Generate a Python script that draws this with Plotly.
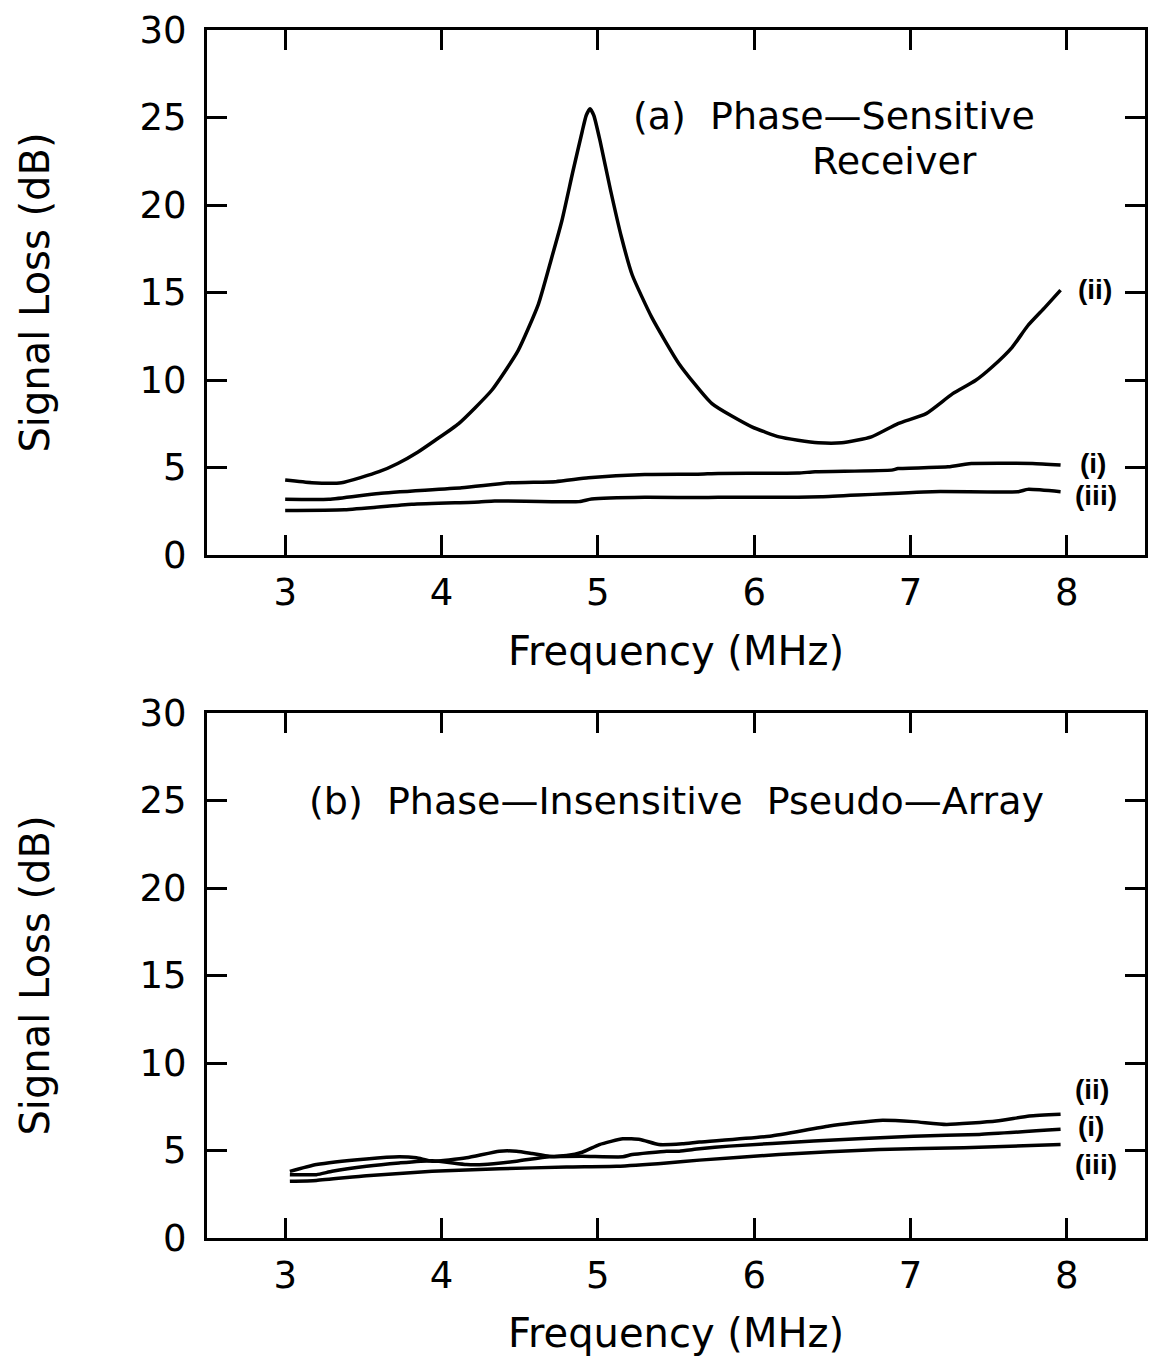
import plotly.graph_objects as go

# ---------------- data ----------------
# (a) Phase-sensitive receiver
a_ii_f = [3.00, 3.17, 3.36, 3.60, 3.72, 3.85, 3.96, 4.11, 4.32, 4.49, 4.62, 4.705, 4.77, 4.84,
          4.90, 4.925, 4.95, 4.975, 5.015, 5.08, 5.15, 5.22, 5.345, 5.52, 5.73, 5.985, 6.16,
          6.28, 6.41, 6.56, 6.75, 6.92, 7.10, 7.27, 7.415, 7.52, 7.65, 7.75, 7.86, 7.96]
a_ii_v = [4.28, 4.13, 4.13, 4.76, 5.23, 5.89, 6.56, 7.51, 9.40, 11.68, 14.34, 16.99, 19.1, 21.9,
          24.2, 25.1, 25.5, 25.1, 23.63, 20.9, 18.2, 16.0, 13.58, 10.92, 8.65, 7.32, 6.75,
          6.56, 6.41, 6.41, 6.75, 7.51, 8.08, 9.22, 9.97, 10.73, 11.87, 13.10, 14.15, 15.14]

a_i_f = [3.00, 3.28, 3.60, 4.13, 4.45, 4.73, 4.94, 5.30, 5.64, 5.77, 6.28, 6.39, 6.88, 6.92,
         7.24, 7.35, 7.39, 7.78, 7.96]
a_i_v = [3.18, 3.18, 3.52, 3.84, 4.13, 4.19, 4.41, 4.60, 4.62, 4.66, 4.68, 4.76, 4.85, 4.94,
         5.04, 5.19, 5.23, 5.23, 5.14]

a_iii_f = [3.00, 3.38, 3.81, 4.24, 4.34, 4.88, 4.96, 5.30, 5.64, 5.77, 6.28, 6.43, 7.14, 7.69,
           7.75, 7.96]
a_iii_v = [2.54, 2.58, 2.90, 3.03, 3.09, 3.05, 3.20, 3.30, 3.28, 3.30, 3.30, 3.33, 3.62, 3.62,
           3.75, 3.62]

# (b) Phase-insensitive pseudo-array
b_ii_f = [3.03, 3.20, 3.52, 3.73, 3.84, 3.94, 4.16, 4.37, 4.48, 4.58, 4.69, 4.80, 4.90, 5.01,
          5.16, 5.27, 5.39, 5.54, 5.65, 6.10, 6.48, 6.80, 7.02, 7.23, 7.55, 7.76, 7.96]
b_ii_v = [3.81, 4.20, 4.52, 4.64, 4.58, 4.39, 4.58, 4.96, 4.96, 4.83, 4.67, 4.71, 4.90, 5.34,
          5.67, 5.63, 5.34, 5.38, 5.48, 5.82, 6.40, 6.72, 6.65, 6.49, 6.68, 6.97, 7.07]

b_i_f = [3.03, 3.20, 3.30, 3.52, 3.73, 3.94, 4.16, 4.27, 4.48, 4.69, 4.90, 5.16, 5.22, 5.44,
         5.52, 5.65, 5.84, 6.38, 7.02, 7.44, 7.96]
b_i_v = [3.62, 3.62, 3.81, 4.10, 4.29, 4.42, 4.20, 4.20, 4.39, 4.64, 4.67, 4.64, 4.77, 4.96,
         4.96, 5.10, 5.25, 5.54, 5.82, 5.92, 6.21]

b_iii_f = [3.03, 3.20, 3.52, 3.94, 4.37, 4.80, 5.12, 5.44, 5.65, 6.16, 6.80, 7.34, 7.96]
b_iii_v = [3.24, 3.29, 3.56, 3.81, 3.95, 4.06, 4.10, 4.29, 4.45, 4.77, 5.06, 5.15, 5.34]

x_ticks = [3, 4, 5, 6, 7, 8]
y_ticks = [0, 5, 10, 15, 20, 25, 30]

labels_a = [("(ii)", 8.06, 15.15), ("(i)", 8.07, 5.25), ("(iii)", 8.04, 3.4)]
labels_b = [("(ii)", 8.04, 8.5), ("(i)", 8.06, 6.38), ("(iii)", 8.04, 4.2)]

FONT = "DejaVu Sans"
LW = 3.5

fig = go.Figure()

def add_line(f, v, xa, ya):
    fig.add_trace(go.Scatter(x=f, y=v, mode="lines", xaxis=xa, yaxis=ya,
                             line=dict(color="black", width=LW, shape="spline", smoothing=0.5),
                             showlegend=False, hoverinfo="skip"))

for f, v in [(a_ii_f, a_ii_v), (a_i_f, a_i_v), (a_iii_f, a_iii_v)]:
    add_line(f, v, "x", "y")
for f, v in [(b_ii_f, b_ii_v), (b_i_f, b_i_v), (b_iii_f, b_iii_v)]:
    add_line(f, v, "x2", "y2")

axis_common = dict(showline=True, linecolor="black", linewidth=3, mirror="ticks",
                   ticks="inside", ticklen=20, tickwidth=3, tickcolor="black",
                   showgrid=False, zeroline=False,
                   tickfont=dict(family=FONT, size=37, color="black"))

xcommon = dict(axis_common, range=[2.5, 8.5], tickvals=x_ticks, ticklabelstandoff=3,
               title=dict(text="Frequency (MHz)", font=dict(family=FONT, size=40, color="black"),
                          standoff=24))
ycommon = dict(axis_common, range=[0, 30], tickvals=y_ticks, ticklabelstandoff=10,
               title=dict(text="Signal Loss (dB)", font=dict(family=FONT, size=40, color="black"),
                          standoff=78))

fig.update_layout(
    width=1150, height=1356,
    margin=dict(l=207, r=5, t=30, b=118, autoexpand=False),
    paper_bgcolor="white", plot_bgcolor="white",
    xaxis=dict(xcommon, domain=[0, 1], anchor="y"),
    yaxis=dict(ycommon, domain=[0.5654, 1.0], anchor="x"),
    xaxis2=dict(xcommon, domain=[0, 1], anchor="y2"),
    yaxis2=dict(ycommon, domain=[0.0, 0.4346], anchor="x2"),
)

ann = []
tfont = dict(family=FONT, size=38, color="black")
ann.append(dict(text="(a)  Phase\u2014Sensitive", x=6.51, y=25.1, xref="x", yref="y",
                showarrow=False, font=tfont, xanchor="center", yanchor="middle"))
ann.append(dict(text="Receiver", x=6.90, y=22.5, xref="x", yref="y",
                showarrow=False, font=tfont, xanchor="center", yanchor="middle"))
ann.append(dict(text="(b)  Phase\u2014Insensitive  Pseudo\u2014Array", x=5.50, y=25.0, xref="x2", yref="y2",
                showarrow=False, font=tfont, xanchor="center", yanchor="middle"))
lfont = dict(family="Liberation Sans", size=28, color="black", weight="bold")
for t, x, y in labels_a:
    ann.append(dict(text=t, x=x, y=y, xref="x", yref="y", showarrow=False, font=lfont,
                    xanchor="left", yanchor="middle"))
for t, x, y in labels_b:
    ann.append(dict(text=t, x=x, y=y, xref="x2", yref="y2", showarrow=False, font=lfont,
                    xanchor="left", yanchor="middle"))
fig.update_layout(annotations=ann)

fig.write_html("out.html")
